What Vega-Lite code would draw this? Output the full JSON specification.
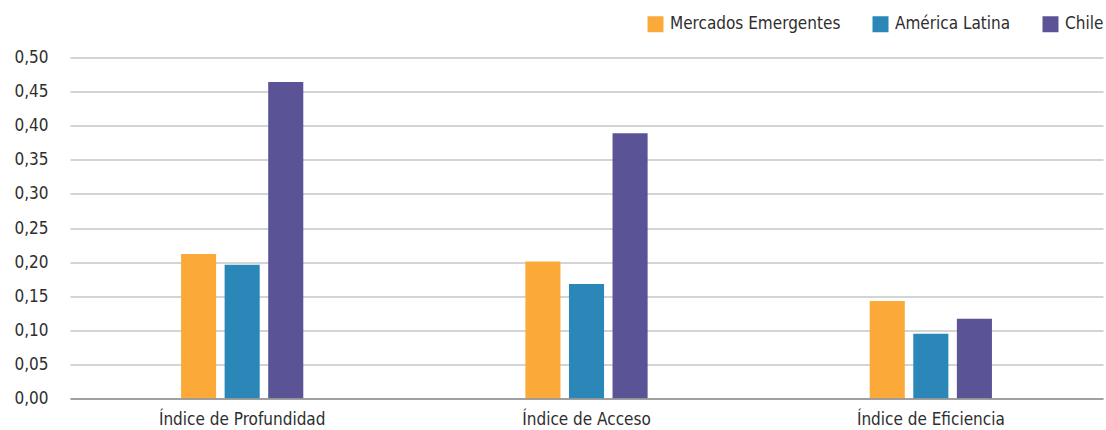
{
  "$schema": "https://vega.github.io/schema/vega-lite/v6.json",
  "width": 1033,
  "height": 341,
  "autosize": {"type": "none"},
  "padding": {"left": 70, "top": 57.5, "right": 3, "bottom": 31.5},
  "background": "white",
  "data": {
    "values": [
      {"indice": "Índice de Profundidad", "grupo": "Mercados Emergentes", "valor": 0.212},
      {"indice": "Índice de Profundidad", "grupo": "América Latina", "valor": 0.196},
      {"indice": "Índice de Profundidad", "grupo": "Chile", "valor": 0.464},
      {"indice": "Índice de Acceso", "grupo": "Mercados Emergentes", "valor": 0.201},
      {"indice": "Índice de Acceso", "grupo": "América Latina", "valor": 0.168},
      {"indice": "Índice de Acceso", "grupo": "Chile", "valor": 0.389},
      {"indice": "Índice de Eficiencia", "grupo": "Mercados Emergentes", "valor": 0.143},
      {"indice": "Índice de Eficiencia", "grupo": "América Latina", "valor": 0.095},
      {"indice": "Índice de Eficiencia", "grupo": "Chile", "valor": 0.117}
    ]
  },
  "mark": {"type": "bar"},
  "encoding": {
    "x": {
      "field": "indice",
      "type": "nominal",
      "sort": ["Índice de Profundidad", "Índice de Acceso", "Índice de Eficiencia"],
      "scale": {"paddingInner": 0.645, "paddingOuter": 0.3225},
      "axis": {
        "title": null,
        "labelAngle": 0,
        "ticks": false,
        "tickSize": 0,
        "labelPadding": 13,
        "domainColor": "#8f8f8f",
        "domainWidth": 1.5,
        "zindex": 1,
        "labelFont": "DejaVu Sans Condensed",
        "labelFontSize": 17,
        "labelColor": "#2e2e2e"
      }
    },
    "xOffset": {
      "field": "grupo",
      "type": "nominal",
      "sort": ["Mercados Emergentes", "América Latina", "Chile"],
      "scale": {"paddingInner": 0.195, "paddingOuter": 0}
    },
    "y": {
      "field": "valor",
      "type": "quantitative",
      "scale": {"domain": [0, 0.5], "nice": false},
      "axis": {
        "title": null,
        "values": [0, 0.05, 0.1, 0.15, 0.2, 0.25, 0.3, 0.35, 0.4, 0.45, 0.5],
        "labelExpr": "replace(format(datum.value, '.2f'), '.', ',')",
        "domain": false,
        "ticks": false,
        "tickSize": 0,
        "labelPadding": 22,
        "gridColor": "#c4c6c6",
        "gridWidth": 1.5,
        "labelFont": "DejaVu Sans Condensed",
        "labelFontSize": 17,
        "labelColor": "#2e2e2e"
      }
    },
    "color": {
      "field": "grupo",
      "type": "nominal",
      "sort": ["Mercados Emergentes", "América Latina", "Chile"],
      "scale": {
        "domain": ["Mercados Emergentes", "América Latina", "Chile"],
        "range": ["#FBAA3A", "#2A87B8", "#5A5496"]
      },
      "legend": {
        "title": null,
        "orient": "none",
        "direction": "horizontal",
        "legendX": 577,
        "legendY": -42,
        "symbolType": "square",
        "symbolSize": 256,
        "symbolStrokeWidth": 0,
        "symbolOpacity": 1,
        "labelOffset": 6,
        "labelLimit": 400,
        "columnPadding": 31,
        "labelFont": "DejaVu Sans Condensed",
        "labelFontSize": 17,
        "labelColor": "#2e2e2e"
      }
    }
  },
  "config": {"view": {"stroke": null}}
}
